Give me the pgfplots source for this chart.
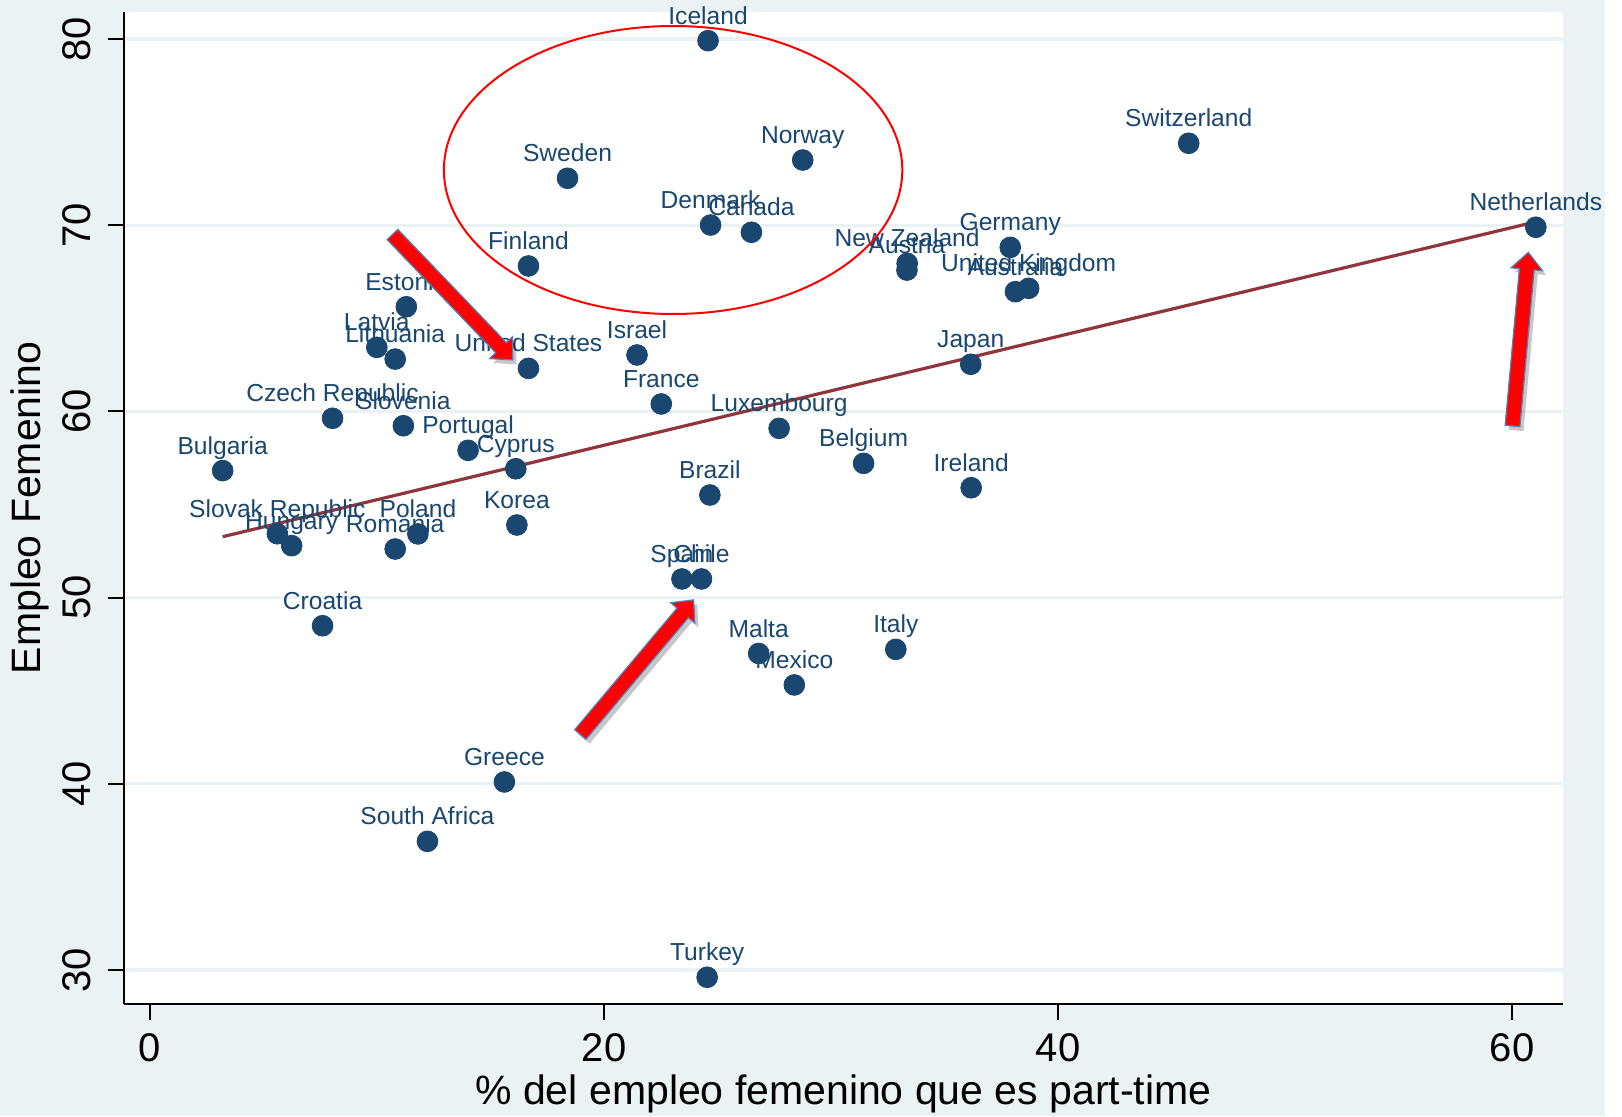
\documentclass[border=0pt]{standalone}
\usepackage{fontspec}
\setmainfont{Liberation Sans}
\usepackage{pgfplots}
\pgfplotsset{compat=1.18}
\usepackage{pgfplotstable}
\definecolor{bg}{RGB}{234,242,243}
\definecolor{stnavy}{RGB}{26,71,111}
\definecolor{fitred}{RGB}{144,53,59}
\definecolor{arrowblue}{RGB}{79,129,189}

\pgfplotstableread[col sep=comma]{
x,y,label
24.58,79.91,Iceland
18.39,72.52,Sweden
28.75,73.50,Norway
24.69,70.01,Denmark
26.49,69.62,Canada
16.67,67.81,Finland
45.75,74.40,Switzerland
61.04,69.89,Netherlands
33.35,67.95,New Zealand
33.34,67.59,Austria
37.89,68.81,Germany
38.70,66.61,United Kingdom
38.12,66.43,Australia
11.29,65.62,Estonia
9.99,63.44,Latvia
10.80,62.81,Lithuania
16.67,62.31,United States
21.45,63.03,Israel
22.52,60.40,France
36.15,62.53,Japan
8.04,59.63,Czech Republic
11.16,59.23,Slovenia
14.01,57.91,Portugal
16.11,56.92,Cyprus
3.20,56.82,Bulgaria
27.71,59.09,Luxembourg
31.43,57.21,Belgium
36.17,55.90,Ireland
24.66,55.51,Brazil
16.16,53.90,Korea
5.61,53.43,Slovak Republic
6.24,52.79,Hungary
11.80,53.42,Poland
10.80,52.61,Romania
23.43,51.00,Spain
24.29,51.00,Chile
7.60,48.49,Croatia
26.81,47.00,Malta
32.85,47.22,Italy
28.38,45.31,Mexico
15.61,40.10,Greece
12.22,36.91,South Africa
24.54,29.61,Turkey
}\countries

\newcommand{\blockarrow}[4]{%
  \begin{scope}[shift={(#1+1.8pt,#2-2.2pt)}, rotate=#3]
    \fill[black, opacity=0.22] (0pt,-3.7pt) -- (#4-8.5pt,-3.7pt) -- (#4-8.5pt,-7.9pt) -- (#4,0pt) -- (#4-8.5pt,7.9pt) -- (#4-8.5pt,3.7pt) -- (0pt,3.7pt) -- cycle;
  \end{scope}
  \begin{scope}[shift={(#1,#2)}, rotate=#3]
    \filldraw[fill=red, draw=arrowblue, line width=0.6pt] (0pt,-3.7pt) -- (#4-8.5pt,-3.7pt) -- (#4-8.5pt,-7.9pt) -- (#4,0pt) -- (#4-8.5pt,7.9pt) -- (#4-8.5pt,3.7pt) -- (0pt,3.7pt) -- cycle;
  \end{scope}}

\begin{document}
\begin{tikzpicture}
\fill[bg] (-61.8pt,-56.15pt) rectangle (740.7pt,501.85pt);
\fill[white] (740.7pt,-56.15pt) rectangle (749.2pt,501.85pt);
\begin{axis}[
  at={(0pt,0pt)}, anchor=south west,
  scale only axis, width=719.85pt, height=495.85pt,
  xmin=-1.163, xmax=62.25, ymin=28.19, ymax=81.45,
  axis x line*=bottom, axis y line*=left,
  axis line style={line width=1pt, black, -},
  axis background/.style={fill=white},
  xtick={0,20,40,60}, ytick={30,40,50,60,70,80},
  tick align=outside, major tick length=8pt,
  tick style={line width=1pt, black},
  minor tick num=0,
  ymajorgrids, grid style={line width=1.6pt, bg},
  ticklabel style={font=\fontsize{20}{24}\selectfont, inner sep=0pt},
  /pgf/number format/assume math mode=true,
  xticklabel style={anchor=north},
  yticklabel style={rotate=90, anchor=south},
  xticklabel shift=6.6pt,
  yticklabel shift=8.1pt,
  xlabel={\% del empleo femenino que es part-time},
  ylabel={Empleo Femenino},
  label style={font=\fontsize{20.5}{24}\selectfont, inner sep=0pt},
  xlabel style={at={(axis description cs:0.5,-0.10195)}, anchor=base},
  ylabel style={at={(axis description cs:-0.06522,0.5)}, anchor=center},
  clip=false,
]
\addplot[only marks, mark=*, mark size=5.2pt, color=stnavy,
  mark options={fill=stnavy, draw=stnavy},
  nodes near coords, point meta=explicit symbolic,
  every node near coord/.append style={anchor=base, yshift=8.2pt, inner sep=0pt,
    font=\fontsize{12.3}{14}\selectfont, text=stnavy}]
  table[x=x, y=y, meta=label] {\countries};
\addplot[fitred, line width=1.6pt, mark=none] coordinates {(3.20,53.27) (61.07,70.19)};
\end{axis}
\draw[red, line width=1pt] (274.75pt,416.85pt) ellipse [x radius=114.6pt, y radius=72pt];
\blockarrow{134.45pt}{384.6pt}{-46.2}{86.9pt}
\blockarrow{228.35pt}{134.6pt}{49.9}{88pt}
\blockarrow{694.45pt}{288.85pt}{84.8}{87.2pt}
\pgfresetboundingbox
\useasboundingbox (-61.8pt,-56.15pt) rectangle (749.2pt,501.85pt);
\end{tikzpicture}
\end{document}
